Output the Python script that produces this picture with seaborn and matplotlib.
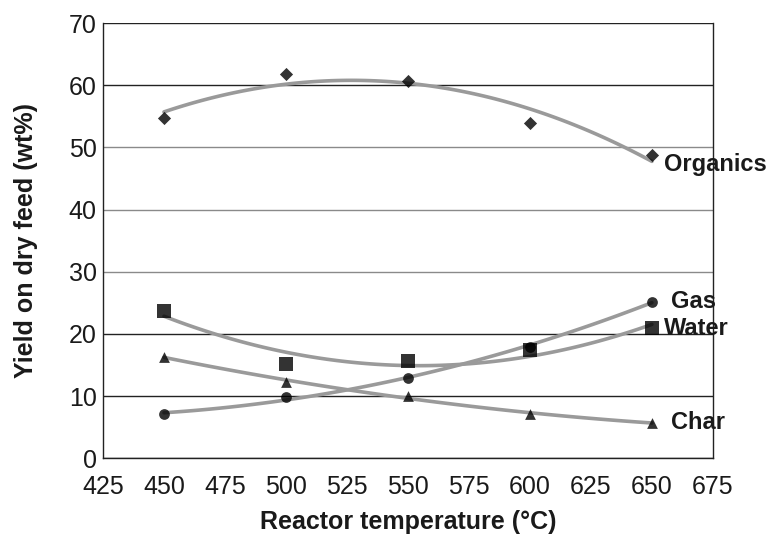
import matplotlib
matplotlib.use("Agg")
import matplotlib.pyplot as plt
import seaborn as sns
import pandas as pd

temps = [450, 500, 550, 600, 650]
organics = [54.8, 61.9, 60.7, 54.0, 48.8]
gas = [7.1, 9.8, 12.9, 17.9, 25.2]
water = [23.7, 15.1, 15.6, 17.4, 20.9]
char = [16.3, 12.3, 10.0, 7.1, 5.7]
series_names = ["Organics", "Gas", "Water", "Char"]
markers = ["D", "o", "s", "^"]
marker_sizes = [45, 60, 110, 60]
x_ticks = [425, 450, 475, 500, 525, 550, 575, 600, 625, 650, 675]
y_ticks = [0, 10, 20, 30, 40, 50, 60, 70]

sns.set_style("white")
plt.rcParams['font.family'] = ['Liberation Sans', 'DejaVu Sans']

fig = plt.figure(figsize=(7.8, 5.39), dpi=100)
ax = fig.add_axes([0.132, 0.150, 0.782, 0.807])

values = [organics, gas, water, char]
label_offsets = [(9, -7), (14, 0), (9, 0), (14, 0)]
for name, vals, mk, ms, off in zip(series_names, values, markers, marker_sizes, label_offsets):
    df = pd.DataFrame({"T": temps, "Y": vals})
    sns.regplot(data=df, x="T", y="Y", order=2, ci=None, truncate=True, ax=ax,
                marker=mk, scatter_kws={"s": ms, "color": "black", "zorder": 4, "linewidths": 0},
                line_kws={"color": "#9a9a9a", "lw": 2.6, "zorder": 3})
    ax.annotate(name, (temps[-1], vals[-1]), xytext=off, textcoords="offset points",
                ha="left", va="center", fontsize=17, fontweight="bold", color="#1a1a1a",
                annotation_clip=False)

ax.set_xlim(425, 675)
ax.set_ylim(0, 70)
ax.set_xticks(x_ticks)
ax.set_yticks(y_ticks)
ax.yaxis.grid(True, color="#222222", lw=1.0)
grid_colors = ["#222222", "#222222", "#222222", "#8a8a8a", "#8a8a8a", "#8a8a8a", "#222222", "#222222"]
for gl, c in zip(ax.get_ygridlines(), grid_colors):
    gl.set_color(c)
ax.set_axisbelow(True)
for s in ["left", "bottom", "right"]:
    ax.spines[s].set_visible(True)
    ax.spines[s].set_color("#222222")
    ax.spines[s].set_linewidth(1.0)
ax.spines["top"].set_visible(False)
ax.tick_params(axis="both", direction="inout", length=6, width=1, color="#222222",
               labelsize=18, labelcolor="#1a1a1a")
ax.tick_params(axis="x", pad=9)
ax.tick_params(axis="y", length=5, pad=2)
ax.set_xlabel("Reactor temperature (°C)", fontsize=18, fontweight="bold", color="#1a1a1a", labelpad=8)
ax.set_ylabel("Yield on dry feed (wt%)", fontsize=18, fontweight="bold", color="#1a1a1a", labelpad=22)

fig.savefig("out.png", dpi=100)
